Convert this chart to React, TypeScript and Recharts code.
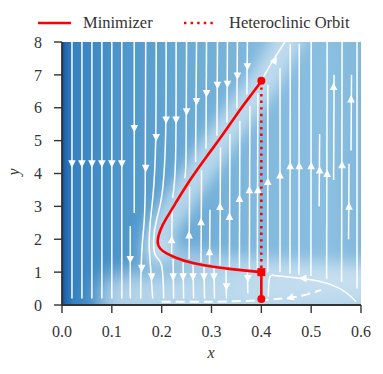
import React from "react";
import {
  ComposedChart,
  Line,
  Scatter,
  XAxis,
  YAxis,
  CartesianGrid,
  Label,
} from "recharts";

// ── Data ───────────────────────────────────────────────────────────

const X_TICKS = [0, 0.1, 0.2, 0.3, 0.4, 0.5, 0.6];
const Y_TICKS = [0, 1, 2, 3, 4, 5, 6, 7, 8];

// minimizer path: upper branch, nose, lower branch to the saddle
const MINIMIZER_CURVE = [
  [0.401, 6.82], [0.379, 6.38], [0.357, 5.93], [0.324, 5.22], [0.29, 4.51],
  [0.257, 3.8], [0.23, 3.15], [0.21, 2.65], [0.198, 2.3], [0.192, 1.95],
  [0.197, 1.72], [0.21, 1.57], [0.23, 1.43], [0.257, 1.3], [0.297, 1.18],
  [0.34, 1.09], [0.4, 1.0],
];
const MINIMIZER_DROP = [[0.4, 1.0], [0.4, 0.18]];
const HETEROCLINIC = [[0.4, 6.82], [0.4, 1.0]];
const MARKERS = [
  { x: 0.4, y: 6.82, m: "circle" },
  { x: 0.4, y: 1.0, m: "square" },
  { x: 0.4, y: 0.18, m: "circle" },
];

// streamlines of the vector field
const STREAMS = [
  [[0.02, 8], [0.02, 0.2]],
  [[0.04, 8], [0.04, 0.2]],
  [[0.06, 8], [0.06, 0.2]],
  [[0.08, 8], [0.08, 0.2]],
  [[0.1, 8], [0.1, 0.2]],
  [[0.12, 8], [0.12, 0.2]],
  [[0.145, 8], [0.145, 2.8]],
  [[0.137, 2.4], [0.137, 0.2]],
  [[0.168, 8], [0.167, 3.5], [0.163, 2.2], [0.159, 1.2], [0.158, 0.2]],
  [[0.189, 8], [0.188, 5], [0.183, 3.4], [0.177, 2.5], [0.175, 1.8], [0.178, 1.1], [0.182, 0.2]],
  [[0.209, 8], [0.208, 5.2], [0.201, 3.4], [0.19, 2.6], [0.184, 2.0], [0.188, 1.5], [0.2, 1.2], [0.204, 0.2]],
  [[0.229, 8], [0.228, 4.5], [0.222, 3.25]],
  [[0.25, 8], [0.249, 4.6], [0.246, 3.85]],
  [[0.27, 8], [0.268, 4.35]],
  [[0.29, 8], [0.289, 4.75]],
  [[0.312, 8], [0.311, 5.15]],
  [[0.332, 8], [0.331, 5.55]],
  [[0.352, 8], [0.351, 5.98]],
  [[0.372, 8], [0.371, 6.4]],
  [[0.223, 1.4], [0.224, 0.2]],
  [[0.243, 1.3], [0.244, 0.2]],
  [[0.263, 1.22], [0.264, 0.2]],
  [[0.285, 1.16], [0.286, 0.2]],
  [[0.305, 1.13], [0.306, 0.2]],
  [[0.329, 1.08], [0.33, 0.2]],
  [[0.372, 1.02], [0.373, 0.35]],
  [[0.22, 1.55], [0.221, 2.9]],
  [[0.255, 1.4], [0.256, 3.6]],
  [[0.279, 1.3], [0.28, 4.1]],
  [[0.296, 1.25], [0.297, 2.9]],
  [[0.317, 1.2], [0.318, 4.8]],
  [[0.336, 1.15], [0.337, 5.2]],
  [[0.356, 1.12], [0.357, 5.6]],
  [[0.376, 1.08], [0.377, 6.05]],
  [[0.392, 1.05], [0.393, 6.45]],
  [[0.413, 1.0], [0.413, 6.7]],
  [[0.4375, 1.0], [0.4375, 7.2]],
  [[0.4575, 0.95], [0.458, 7.95]],
  [[0.4755, 0.92], [0.476, 7.95]],
  [[0.4995, 0.88], [0.5, 8]],
  [[0.516, 3.0], [0.517, 5.2]],
  [[0.531, 0.8], [0.532, 8]],
  [[0.545, 3.8], [0.546, 7.0]],
  [[0.561, 0.7], [0.562, 8]],
  [[0.575, 2.0], [0.576, 4.3]],
  [[0.58, 4.7], [0.581, 7.0]],
  [[0.592, 0.5], [0.592, 8]],
  [[0.4, 6.82], [0.42, 7.35], [0.447, 8]],
  [[0.59, 0.1], [0.57, 0.38], [0.54, 0.62], [0.5, 0.77], [0.45, 0.86], [0.425, 0.9], [0.416, 0.8], [0.414, 0.25]],
];
const DASHED_STREAM = [[0.2, 0.1], [0.3, 0.1], [0.38, 0.13], [0.43, 0.18], [0.48, 0.28], [0.52, 0.46]];

// arrow heads: x, y, heading in degrees (0 = up)
const ARROWS = [
  [0.02, 4.3, 180], [0.04, 4.3, 180], [0.06, 4.3, 180], [0.08, 4.3, 180],
  [0.1, 4.3, 180], [0.12, 4.3, 180], [0.145, 5.37, 180], [0.137, 1.39, 180],
  [0.168, 4.16, 180], [0.16, 1.12, 180], [0.18, 0.86, 180], [0.189, 5.1, 180],
  [0.209, 5.63, 180], [0.229, 5.63, 180], [0.25, 5.88, 180], [0.27, 6.19, 180],
  [0.29, 6.44, 180], [0.312, 6.69, 180], [0.332, 6.72, 180], [0.352, 6.97, 180],
  [0.372, 7.25, 180], [0.223, 0.86, 180], [0.243, 0.86, 180], [0.263, 0.86, 180],
  [0.285, 0.86, 180], [0.305, 0.86, 180], [0.33, 0.56, 180], [0.373, 0.81, 180],
  [0.22, 1.98, 0], [0.255, 2.13, 0], [0.279, 2.53, 0], [0.296, 1.62, 0],
  [0.317, 2.99, 0], [0.336, 2.69, 0], [0.356, 3.24, 0], [0.376, 3.5, 0],
  [0.393, 3.5, 0], [0.413, 3.75, 0], [0.4375, 3.95, 0], [0.458, 4.23, 0],
  [0.476, 4.23, 0], [0.5, 4.23, 0], [0.517, 4.1, 0], [0.532, 4.0, 0],
  [0.545, 6.64, 0], [0.562, 4.26, 0], [0.576, 3.0, 0], [0.58, 6.26, 0],
  [0.484, 0.81, 270], [0.458, 0.22, 250], [0.427, 7.45, 30],
];

// light bands of the background field
const RIDGE_GLOW = [[0.19, 1.6], [0.205, 2.4], [0.26, 3.7], [0.31, 4.85], [0.36, 5.9], [0.41, 6.9], [0.46, 8.3]];
const LOWER_GLOW = [[0.2, 1.75], [0.24, 1.45], [0.3, 1.25], [0.4, 1.1], [0.5, 0.95], [0.62, 0.8]];
const FLOOR_GLOW = [[0.12, 0.25], [0.3, 0.35], [0.45, 0.45], [0.65, 0.5]];

const pts = (arr: number[][]) => arr.map(([x, y]) => ({ x, y }));

const FONT = "'Liberation Serif', 'DejaVu Serif', serif";
const INK = "#333";
const RED = "#ff0000";

// ── Shapes ─────────────────────────────────────────────────────────

function ArrowHead(props: any) {
  const { cx, cy, payload } = props;
  return (
    <polygon
      points="0,-4.2 3.8,3.4 -3.8,3.4"
      transform={`translate(${cx},${cy}) rotate(${payload.a})`}
      fill="#fff"
    />
  );
}

function Marker(props: any) {
  const { cx, cy, payload } = props;
  if (payload.m === "square")
    return <rect x={cx - 4} y={cy - 4} width={8} height={8} fill={RED} />;
  return <circle cx={cx} cy={cy} r={4} fill={RED} />;
}

function Glow({ data, width, opacity, filter }: any) {
  return null;
}

// ── Component ──────────────────────────────────────────────────────

export default function App() {
  const arrowData = ARROWS.map(([x, y, a]) => ({ x, y, a }));
  const tick = { fill: INK, fontSize: 16, fontFamily: FONT };
  const axisLine = { stroke: INK, strokeWidth: 1.8 };
  const tickLine = { stroke: INK, strokeWidth: 1.4 };

  const glow = (data: number[][], width: number, opacity: number, filter: string, color: string) => (
    <Line
      data={pts(data)}
      dataKey="y"
      type="natural"
      stroke={color}
      strokeWidth={width}
      strokeOpacity={opacity}
      strokeLinecap="round"
      filter={filter}
      dot={false}
      activeDot={false}
      isAnimationActive={false}
    />
  );

  return (
    <div style={{ position: "absolute", left: 0, top: 0, width: 383, height: 374 }}>
      {/* Legend */}
      <svg width={383} height={40} style={{ position: "absolute", left: 0, top: 0 }}>
        <line x1={38} x2={71} y1={23} y2={23} stroke={RED} strokeWidth={2.6} />
        <text x={83} y={28} fontFamily={FONT} fontSize={16.5} fill={INK}>
          Minimizer
        </text>
        <line x1={184} x2={213} y1={23} y2={23} stroke={RED} strokeWidth={2.6} strokeDasharray="2.4 4.2" />
        <text x={229} y={28} fontFamily={FONT} fontSize={16.5} fill={INK}>
          Heteroclinic Orbit
        </text>
      </svg>
      <ComposedChart
        width={383}
        height={374}
        margin={{ top: 42, right: 22, bottom: 39, left: 22 }}
      >
        <defs>
          <linearGradient id="bgGrad" x1="0" y1="0" x2="1" y2="0">
            <stop offset="0" stopColor="#0b4b93" />
            <stop offset="0.01" stopColor="#2166ad" />
            <stop offset="0.04" stopColor="#3682c1" />
            <stop offset="0.18" stopColor="#4a94ca" />
            <stop offset="0.4" stopColor="#68a9d5" />
            <stop offset="0.65" stopColor="#82b9de" />
            <stop offset="0.9" stopColor="#8bbfe0" />
            <stop offset="1" stopColor="#80b8dd" />
          </linearGradient>
          <filter id="glowWide" filterUnits="userSpaceOnUse" x="0" y="0" width="383" height="374">
            <feGaussianBlur stdDeviation="10" />
          </filter>
          <filter id="glowSoft" filterUnits="userSpaceOnUse" x="0" y="0" width="383" height="374">
            <feGaussianBlur stdDeviation="7" />
          </filter>
        </defs>

        <CartesianGrid horizontal={false} vertical={false} fill="url(#bgGrad)" />

        <XAxis
          xAxisId={0}
          type="number"
          dataKey="x"
          domain={[0, 0.6]}
          ticks={X_TICKS}
          allowDataOverflow
          height={30}
          tick={tick}
          tickFormatter={(v: number) => v.toFixed(1)}
          tickSize={8}
          tickMargin={13}
          axisLine={axisLine}
          tickLine={tickLine}
        >
          <Label
            content={() => (
              <text x={211} y={358} textAnchor="middle" fontFamily={FONT} fontStyle="italic" fontSize={16} fill={INK}>
                x
              </text>
            )}
          />
        </XAxis>
        <XAxis
          xAxisId="top"
          orientation="top"
          type="number"
          dataKey="x"
          domain={[0, 0.6]}
          ticks={X_TICKS}
          allowDataOverflow
          height={0}
          tick={false}
          tickSize={8}
          axisLine={axisLine}
          tickLine={tickLine}
        />
        <YAxis
          yAxisId={0}
          type="number"
          dataKey="y"
          domain={[0, 8]}
          ticks={Y_TICKS}
          allowDataOverflow
          width={40}
          tick={tick}
          tickSize={8}
          tickMargin={12}
          axisLine={axisLine}
          tickLine={tickLine}
        >
          <Label
            content={() => (
              <text
                x={19}
                y={172}
                textAnchor="middle"
                transform="rotate(-90 19 172)"
                fontFamily={FONT}
                fontStyle="italic"
                fontSize={16}
                fill={INK}
              >
                y
              </text>
            )}
          />
        </YAxis>
        <YAxis
          yAxisId="right"
          orientation="right"
          type="number"
          domain={[0, 8]}
          ticks={Y_TICKS}
          allowDataOverflow
          width={0}
          tick={false}
          tickSize={8}
          axisLine={axisLine}
          tickLine={tickLine}
        />

        {/* background light bands */}
        {glow(FLOOR_GLOW, 48, 0.75, "url(#glowWide)", "#d2e5f3")}
        {glow(LOWER_GLOW, 22, 0.45, "url(#glowSoft)", "#d2e5f3")}
        {glow(RIDGE_GLOW, 30, 0.7, "url(#glowSoft)", "#d6e8f5")}

        {/* streamlines */}
        {STREAMS.map((s, i) => (
          <Line
            key={`s${i}`}
            data={pts(s)}
            dataKey="y"
            type={s.length > 2 ? "natural" : "linear"}
            stroke="#ffffff"
            strokeWidth={1.5}
            dot={false}
            activeDot={false}
            isAnimationActive={false}
          />
        ))}
        <Line
          data={pts(DASHED_STREAM)}
          dataKey="y"
          type="natural"
          stroke="#ffffff"
          strokeWidth={2}
          strokeDasharray="9 5"
          dot={false}
          activeDot={false}
          isAnimationActive={false}
        />
        <Scatter data={arrowData} shape={ArrowHead} isAnimationActive={false} />

        {/* orbits */}
        <Line
          data={pts(HETEROCLINIC)}
          dataKey="y"
          type="linear"
          stroke={RED}
          strokeWidth={2.6}
          strokeDasharray="2.4 4.2"
          dot={false}
          activeDot={false}
          isAnimationActive={false}
        />
        <Line
          data={pts(MINIMIZER_CURVE)}
          dataKey="y"
          type="natural"
          stroke={RED}
          strokeWidth={2.6}
          dot={false}
          activeDot={false}
          isAnimationActive={false}
        />
        <Line
          data={pts(MINIMIZER_DROP)}
          dataKey="y"
          type="linear"
          stroke={RED}
          strokeWidth={2.6}
          dot={false}
          activeDot={false}
          isAnimationActive={false}
        />
        <Scatter data={MARKERS} shape={Marker} isAnimationActive={false} />
      </ComposedChart>
    </div>
  );
}
